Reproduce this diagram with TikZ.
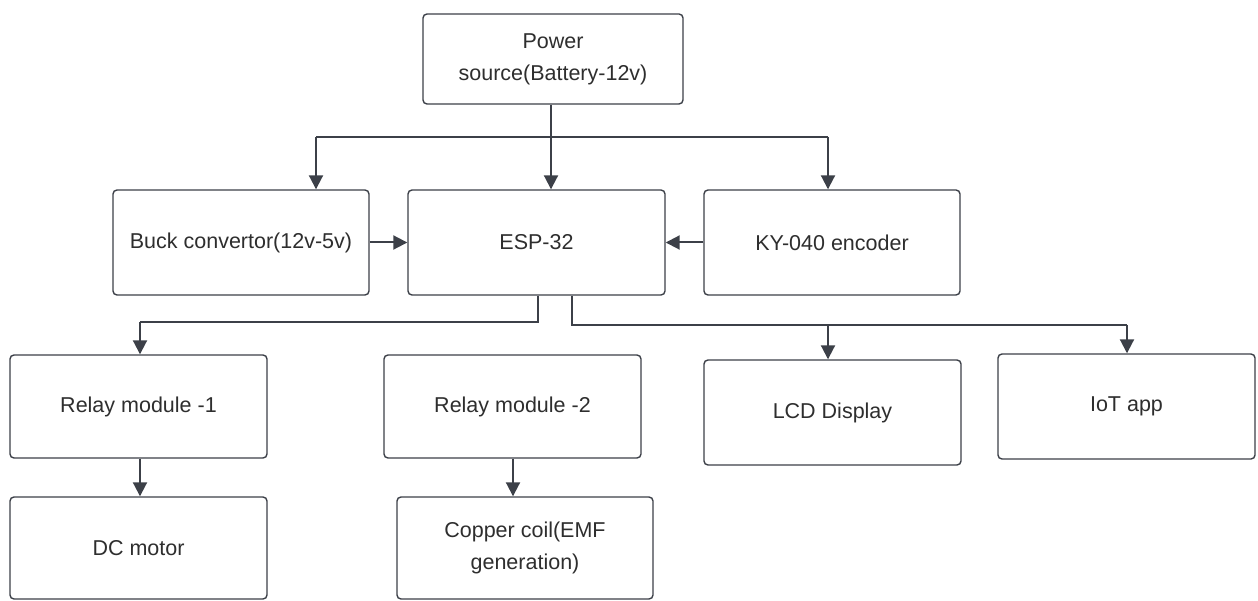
\documentclass[tikz,border=0pt]{standalone}
\usepackage{fontspec}
\setmainfont{Liberation Sans}
\usetikzlibrary{arrows.meta}
\definecolor{ln}{HTML}{3C4048}
\begin{document}
\begin{tikzpicture}[x=1pt,y=-1pt,
  box/.style={draw=ln,line width=1.4pt,rounded corners=4pt,fill=white,align=center,
    font=\fontsize{21.5}{32}\selectfont,text=black!82,inner sep=0pt},
  conn/.style={draw=ln,line width=2pt},
  arr/.style={conn,-{Triangle[length=14pt,width=14pt]}}]
\useasboundingbox (0,0) rectangle (1258,601);
\node[box,minimum width=260pt,minimum height=90pt] (power) at (553,59) {Power\\source(Battery-12v)};
\node[box,minimum width=256pt,minimum height=105pt] (buck) at (241,242.5) {Buck convertor(12v-5v)};
\node[box,minimum width=257pt,minimum height=105pt] (esp) at (536.5,242.5) {ESP-32};
\node[box,minimum width=256pt,minimum height=105pt] (ky) at (832,242.5) {KY-040 encoder};
\node[box,minimum width=257pt,minimum height=103pt] (r1) at (138.5,406.5) {Relay module -1};
\node[box,minimum width=257pt,minimum height=103pt] (r2) at (512.5,406.5) {Relay module -2};
\node[box,minimum width=257pt,minimum height=105pt] (lcd) at (832.5,412.5) {LCD Display};
\node[box,minimum width=257pt,minimum height=105pt] (iot) at (1126.5,406.5) {IoT app};
\node[box,minimum width=257pt,minimum height=102pt] (dc) at (138.5,548) {DC motor};
\node[box,minimum width=256pt,minimum height=102pt] (cu) at (525,548) {Copper coil(EMF\\generation)};
% power distribution
\coordinate (pj) at (551,137);
\draw[conn] (316,137) -- (828,137);
\draw[arr] (power.south -| pj) -- (esp.north -| pj);
\draw[arr] (316,137) -- (buck.north -| 316,0);
\draw[arr] (828,137) -- (ky.north -| 828,0);
% side inputs
\draw[arr] (buck.east) -- (esp.west);
\draw[arr] (ky.west) -- (esp.east);
% ESP outputs
\draw[conn] (esp.south -| 538,0) |- (140,322);
\draw[arr] (140,322) -- (r1.north -| 140,0);
\draw[conn] (esp.south -| 572,0) |- (1127,325);
\draw[arr] (828,325) -- (lcd.north -| 828,0);
\draw[arr] (1127,325) -- (iot.north -| 1127,0);
% relays to loads
\draw[arr] (r1.south -| 140,0) -- (dc.north -| 140,0);
\draw[arr] (r2.south -| 513,0) -- (cu.north -| 513,0);
\end{tikzpicture}
\end{document}
